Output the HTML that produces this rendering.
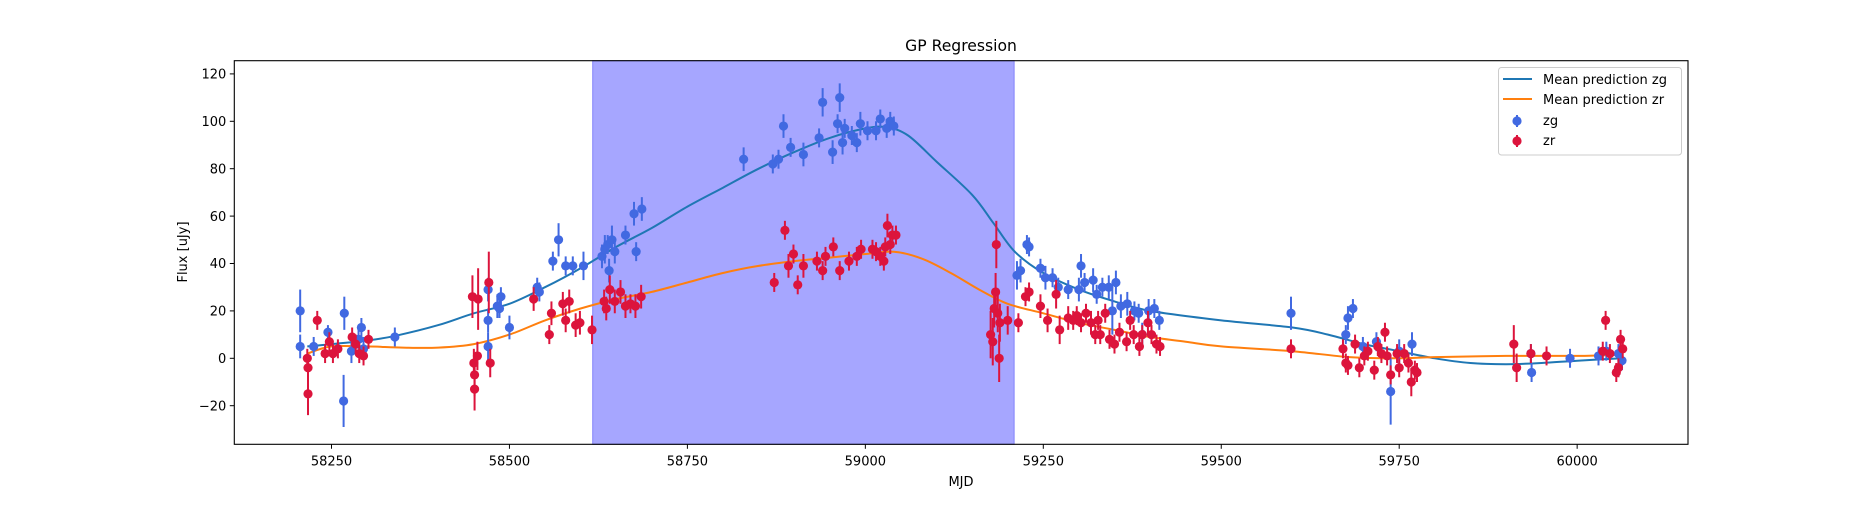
<!DOCTYPE html>
<html><head><meta charset="utf-8"><title>GP Regression</title>
<style>
html,body{margin:0;padding:0;background:#fff;}
svg text{font-family:"DejaVu Sans","Liberation Sans",sans-serif;fill:#000;}
</style></head>
<body>
<svg id="chart" width="1875" height="500" viewBox="0 0 1875 500" xmlns="http://www.w3.org/2000/svg">
<rect x="0" y="0" width="1875" height="500" fill="#fff"/>
<g id="plot"></g>
</svg>
<script>
const xTicks = [58250, 58500, 58750, 59000, 59250, 59500, 59750, 60000];
const yTicks = [-20, 0, 20, 40, 60, 80, 100, 120];
const spanRange = [58617, 59209];

const zgMjd = [58206,58206,58225,58245,58268,58267,58278,58288,58292,58295,58339,58470,58470,58470,58483,58486,58488,58500,58539,58542,58561,58569,58579,58589,58604,58630,58634,58638,58640,58644,58648,58663,58675,58678,58686,58829,58870,58878,58885,58895,58913,58935,58940,58954,58961,58964,58968,58971,58981,58988,58993,59003,59015,59021,59030,59035,59040,59213,59218,59227,59230,59246,59253,59263,59271,59285,59300,59303,59308,59320,59325,59333,59342,59352,59347,59359,59368,59378,59384,59398,59406,59413,59389,59598,59675,59678,59685,59699,59718,59738,59750,59768,59935,59936,59990,60030,60041,60058,60063];
const zgFlux = [20,5,5,11,19,-18,3,8,13,4,9,29,16,5,22,21,26,13,30,28,41,50,39,39,39,43,46,48,37,50,45,52,61,45,63,84,82,84,98,89,86,93,108,87,99,110,91,97,94,91,99,96,96,101,97,100,98,35,37,48,47,38,34,34,30,29,29,39,32,33,27,30,30,32,20,22,23,20,19,20,21,16,10,19,10,17,21,5,7,-14,3,6,2,-6,0,1,3,2,-1];
const zgErr = [9,5,4,3,7,11,5,4,4,5,4,5,5,6,5,4,4,5,4,4,4,7,4,4,6,5,6,4,5,6,5,4,5,4,5,5,4,4,5,4,5,4,6,5,4,6,5,4,4,4,5,4,4,4,4,4,4,6,5,4,4,4,5,4,4,4,5,5,4,5,4,4,5,5,10,5,5,4,4,5,4,4,5,7,4,5,4,4,4,14,5,5,4,4,4,4,4,4,4];

const zrMjd = [58216,58217,58217,58230,58241,58247,58252,58259,58279,58284,58289,58295,58302,58448,58450,58451,58451,58455,58456,58471,58473,58534,58556,58559,58575,58579,58584,58593,58599,58616,58633,58636,58641,58648,58656,58663,58670,58677,58685,58872,58887,58892,58899,58905,58913,58932,58940,58944,58955,58964,58977,58988,58994,59010,59015,59021,59026,59028,59031,59035,59038,59043,59176,59179,59181,59184,59183,59186,59189,59188,59200,59215,59225,59230,59246,59256,59268,59273,59285,59292,59297,59303,59310,59317,59323,59327,59330,59337,59343,59350,59357,59367,59372,59377,59385,59389,59397,59402,59409,59414,59598,59671,59675,59678,59688,59694,59701,59706,59715,59720,59725,59730,59733,59738,59747,59750,59757,59763,59767,59772,59775,59911,59915,59935,59957,60040,60036,60046,60055,60058,60061,60064];
const zrFlux = [0,-4,-15,16,2,7,2,4,9,6,2,1,8,26,-2,-7,-13,1,25,32,-2,25,10,19,23,16,24,14,15,12,24,21,29,24,28,22,23,22,26,32,54,39,44,31,39,41,37,43,47,37,41,43,46,46,45,43,41,47,56,48,52,52,10,7,21,48,28,19,15,0,16,15,26,28,22,16,27,12,17,16,18,15,19,15,10,16,10,19,8,6,11,7,16,10,5,10,15,10,6,5,4,4,-2,-3,6,-4,1,3,-5,5,2,11,1,-7,2,-4,2,-2,-10,-5,-6,6,-4,2,1,16,3,2,-6,-4,8,4];
const zrErr = [4,4,9,4,4,4,4,4,4,4,4,4,4,9,6,9,9,6,13,13,6,5,4,5,5,5,5,5,5,6,5,5,6,5,5,5,4,5,5,4,4,5,4,4,5,4,4,4,4,4,4,4,4,4,4,4,4,4,5,4,4,4,10,10,8,10,8,8,8,10,6,4,4,4,5,5,6,6,5,4,4,4,4,5,4,4,4,4,4,4,4,4,4,4,4,4,5,4,4,4,4,4,4,4,4,4,4,4,4,4,4,4,4,4,4,4,4,4,6,4,4,8,6,4,4,4,4,4,4,4,4,4];

const zgCurveX = [58216,58250,58300,58340,58400,58450,58500,58550,58600,58650,58700,58750,58800,58850,58900,58950,59000,59030,59060,59100,59150,59180,59210,59250,59300,59350,59400,59500,59600,59650,59700,59750,59800,59850,59900,59950,60000,60063];
const zgCurveY = [5,6,7.5,9.5,14,19,23,30,38,47,55,64,72,80,87,93,97,97.5,94,83,69,57,45,36,29,24,20,16,13,10,6,3,0,-2,-2.5,-2,-1,0];
const zrCurveX = [58216,58250,58300,58350,58400,58450,58500,58550,58600,58650,58700,58750,58800,58850,58900,58950,59000,59040,59080,59120,59160,59200,59250,59300,59350,59400,59450,59500,59600,59680,59750,59800,59900,60000,60063];
const zrCurveY = [2,5,5,4.5,4.5,6,10,16,21,25,28,32,36,39,41,42.5,44,45,42,36,29,23,19,15,12,9,7,5,3,0.5,0,0.5,1,1,1.5];

const L = 234.3, R = 1688, T = 60.7, B = 444.3;
const X0 = 58250, XPX0 = 331.5, PXD = 0.7118;
const Y0PX = 358.3, PXU = 2.37;
function sx(v){ return XPX0 + (v - X0) * PXD; }
function sy(v){ return Y0PX - v * PXU; }

const NS = "http://www.w3.org/2000/svg";
const plot = document.getElementById('plot');
function mk(tag, attrs, parent){
  const e = document.createElementNS(NS, tag);
  for (const k in attrs) e.setAttribute(k, attrs[k]);
  (parent || plot).appendChild(e);
  return e;
}

// clip
const defs = mk('defs', {});
const cp = mk('clipPath', {id:'clip'}, defs);
mk('rect', {x:L, y:T, width:R-L, height:B-T}, cp);

// span
const span = mk('rect', {x:sx(spanRange[0]), y:T, width:sx(spanRange[1])-sx(spanRange[0]), height:B-T, fill:'rgb(166,166,255)', stroke:'rgb(130,130,250)', 'stroke-width':1});



const gData = mk('g', {'clip-path':'url(#clip)'});



function smoothPath(xs, ys){
  const p = xs.map((x,i)=>[sx(x), sy(ys[i])]);
  let d = 'M' + p[0][0].toFixed(1) + ',' + p[0][1].toFixed(1);
  for (let i=0;i<p.length-1;i++){
    const p0 = p[Math.max(0,i-1)], p1 = p[i], p2 = p[i+1], p3 = p[Math.min(p.length-1,i+2)];
    const c1x = p1[0] + (p2[0]-p0[0])/6, c1y = p1[1] + (p2[1]-p0[1])/6;
    const c2x = p2[0] - (p3[0]-p1[0])/6, c2y = p2[1] - (p3[1]-p1[1])/6;
    d += ' C' + c1x.toFixed(1)+','+c1y.toFixed(1)+' '+c2x.toFixed(1)+','+c2y.toFixed(1)+' '+p2[0].toFixed(1)+','+p2[1].toFixed(1);
  }
  return d;
}

const lineZg = mk('path', {d:smoothPath(zgCurveX, zgCurveY), fill:'none', stroke:'#1f77b4', 'stroke-width':2}, gData);


const lineZr = mk('path', {d:smoothPath(zrCurveX, zrCurveY), fill:'none', stroke:'#ff7f0e', 'stroke-width':2}, gData);



function drawPoints(xs, ys, es, color, name){
  const g = mk('g', {}, gData);
  
  
  for (let i=0;i<xs.length;i++){
    const cx = sx(xs[i]), cy = sy(ys[i]);
    const bar = mk('line', {x1:cx, x2:cx, y1:sy(ys[i]+es[i]), y2:sy(ys[i]-es[i]), stroke:color, 'stroke-width':2}, g);
    
    
    const c = mk('circle', {cx:cx, cy:cy, r:4.6, fill:color}, g);
    
    
  }
}
drawPoints(zgMjd, zgFlux, zgErr, '#4169e1', 'zg');
drawPoints(zrMjd, zrFlux, zrErr, '#dc143c', 'zr');

// axes frame
const frame = mk('rect', {x:L, y:T, width:R-L, height:B-T, fill:'none', stroke:'#000', 'stroke-width':1.1});



// x ticks
xTicks.forEach(v=>{
  const x = sx(v);
  const t = mk('line', {x1:x, x2:x, y1:B, y2:B+4.5, stroke:'#000', 'stroke-width':1});
  
  
  const tx = mk('text', {x:x, y:B+21, 'text-anchor':'middle', 'font-size':'13'});
  tx.textContent = v;
  
  
});
// y ticks
yTicks.forEach(v=>{
  const y = sy(v);
  const t = mk('line', {x1:L-4.5, x2:L, y1:y, y2:y, stroke:'#000', 'stroke-width':1});
  
  
  const tx = mk('text', {x:L-8, y:y+4.7, 'text-anchor':'end', 'font-size':'13'});
  tx.textContent = v < 0 ? '\u2212' + Math.abs(v) : v;
  
  
});
</script>
<svg style="position:absolute;left:0;top:0" width="1875" height="500">
  <text x="961" y="51" text-anchor="middle" font-size="15.6">GP Regression</text>
  <text x="961" y="486" text-anchor="middle" font-size="13">MJD</text>
  <text transform="translate(187,252) rotate(-90)" text-anchor="middle" font-size="13">Flux [uJy]</text>
  <g>
    <rect x="1498.5" y="67.5" width="183" height="87.5" rx="3" fill="#fff" fill-opacity="0.8" stroke="#ccc" stroke-width="1"/>
    <line x1="1503" x2="1532" y1="79" y2="79" stroke="#1f77b4" stroke-width="2"/>
    <text x="1543" y="84" font-size="13">Mean prediction zg</text>
    <line x1="1503" x2="1532" y1="99" y2="99" stroke="#ff7f0e" stroke-width="2"/>
    <text x="1543" y="104" font-size="13">Mean prediction zr</text>
    <line x1="1517" x2="1517" y1="115" y2="127" stroke="#4169e1" stroke-width="2"/>
    <circle cx="1517" cy="121" r="4.6" fill="#4169e1"/>
    <text x="1543" y="125" font-size="13">zg</text>
    <line x1="1517" x2="1517" y1="135" y2="147" stroke="#dc143c" stroke-width="2"/>
    <circle cx="1517" cy="141" r="4.6" fill="#dc143c"/>
    <text x="1543" y="145" font-size="13">zr</text>
  </g>
</svg>
</body></html>
